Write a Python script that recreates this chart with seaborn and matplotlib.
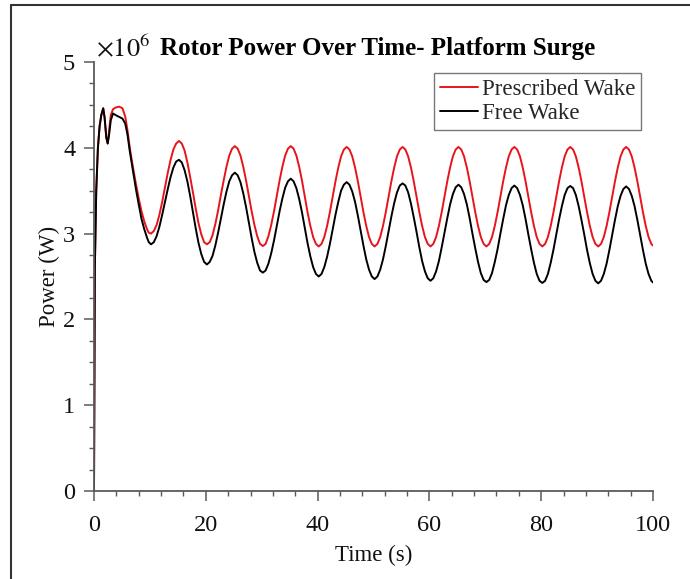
import numpy as np
import pandas as pd
import matplotlib
matplotlib.use("Agg")
import matplotlib.pyplot as plt
import seaborn as sns
from matplotlib.ticker import MultipleLocator
from matplotlib.lines import Line2D

# ---------------- data (power in units of 1e6 W) ----------------
t_early = [0, 0.15, 0.4, 0.7, 1.0, 1.3, 1.65, 1.9, 2.2, 2.45, 2.7, 3.0, 3.4,
           3.9, 4.5, 5.1, 5.6, 6.0, 6.4, 7.0, 7.5, 8.0, 8.5, 9.0, 9.5, 9.8]
t_periodic = list(np.round(np.arange(10.2, 99.75, 0.5), 1)) + [100.0]
time_s = list(t_early) + t_periodic

prescribed_early = [0.0, 2.6, 3.5, 4.0, 4.25, 4.38, 4.46, 4.35, 4.12, 4.05, 4.20, 4.38, 4.45,
                    4.47, 4.48, 4.46, 4.36, 4.20, 4.00, 3.76, 3.58, 3.41, 3.26, 3.14, 3.05, 3.01]
prescribed_periodic = [
    3.00, 3.03, 3.10, 3.22, 3.37, 3.54, 3.71, 3.86, 3.98, 4.05, 4.08,
    4.05, 3.97, 3.83, 3.66, 3.48, 3.29, 3.12, 2.99, 2.90, 2.875,
    2.90, 2.98, 3.11, 3.27, 3.45, 3.62, 3.78, 3.91, 3.99, 4.02,
    3.99, 3.91, 3.78, 3.62, 3.44, 3.26, 3.10, 2.97, 2.88, 2.855,
    2.88, 2.97, 3.10, 3.26, 3.44, 3.62, 3.78, 3.91, 3.99, 4.02,
    3.99, 3.91, 3.78, 3.62, 3.435, 3.25, 3.09, 2.96, 2.88, 2.85,
    2.88, 2.96, 3.09, 3.25, 3.43, 3.61, 3.77, 3.90, 3.98, 4.01,
    3.98, 3.90, 3.77, 3.61, 3.43, 3.25, 3.09, 2.96, 2.88, 2.85,
    2.88, 2.96, 3.09, 3.25, 3.43, 3.61, 3.77, 3.90, 3.98, 4.01,
    3.98, 3.90, 3.77, 3.61, 3.43, 3.25, 3.09, 2.96, 2.88, 2.85,
    2.88, 2.96, 3.09, 3.25, 3.43, 3.61, 3.77, 3.90, 3.98, 4.01,
    3.98, 3.90, 3.77, 3.61, 3.43, 3.25, 3.09, 2.96, 2.88, 2.85,
    2.88, 2.96, 3.09, 3.25, 3.43, 3.61, 3.77, 3.90, 3.98, 4.01,
    3.98, 3.90, 3.77, 3.61, 3.43, 3.25, 3.09, 2.96, 2.88, 2.85,
    2.88, 2.96, 3.09, 3.25, 3.43, 3.61, 3.77, 3.90, 3.98, 4.01,
    3.98, 3.90, 3.77, 3.61, 3.43, 3.25, 3.09, 2.96, 2.88, 2.85,
    2.88, 2.96, 3.09, 3.25, 3.43, 3.61, 3.77, 3.90, 3.98, 4.01,
    3.98, 3.90, 3.77, 3.61, 3.43, 3.25, 3.09, 2.96, 2.88, 2.86,
]
prescribed_wake = prescribed_early + prescribed_periodic

free_early = [0.0, 2.6, 3.5, 4.0, 4.25, 4.38, 4.46, 4.35, 4.12, 4.05, 4.15, 4.32, 4.40,
              4.38, 4.36, 4.34, 4.28, 4.15, 3.96, 3.72, 3.52, 3.34, 3.17, 3.05, 2.95, 2.90]
free_periodic = [
    2.875, 2.90, 2.97, 3.08, 3.22, 3.37, 3.52, 3.66, 3.77, 3.84, 3.86,
    3.83, 3.74, 3.61, 3.44, 3.25, 3.06, 2.89, 2.76, 2.67, 2.64,
    2.67, 2.74, 2.86, 3.01, 3.175, 3.34, 3.49, 3.61, 3.68, 3.71,
    3.68, 3.60, 3.47, 3.31, 3.13, 2.95, 2.785, 2.66, 2.57, 2.545,
    2.57, 2.65, 2.77, 2.92, 3.09, 3.26, 3.41, 3.535, 3.61, 3.64,
    3.61, 3.53, 3.405, 3.25, 3.07, 2.89, 2.735, 2.61, 2.53, 2.50,
    2.53, 2.61, 2.73, 2.88, 3.05, 3.22, 3.37, 3.50, 3.57, 3.60,
    3.57, 3.49, 3.37, 3.21, 3.035, 2.86, 2.70, 2.58, 2.50, 2.47,
    2.50, 2.58, 2.70, 2.855, 3.03, 3.20, 3.355, 3.48, 3.56, 3.585,
    3.56, 3.48, 3.35, 3.19, 3.02, 2.84, 2.68, 2.56, 2.48, 2.45,
    2.48, 2.56, 2.68, 2.84, 3.01, 3.18, 3.34, 3.46, 3.54, 3.57,
    3.54, 3.46, 3.34, 3.18, 3.00, 2.83, 2.67, 2.54, 2.46, 2.435,
    2.46, 2.54, 2.67, 2.82, 3.00, 3.17, 3.33, 3.45, 3.53, 3.56,
    3.53, 3.45, 3.33, 3.17, 2.99, 2.82, 2.66, 2.53, 2.45, 2.425,
    2.45, 2.53, 2.66, 2.815, 2.99, 3.165, 3.32, 3.45, 3.53, 3.555,
    3.53, 3.45, 3.32, 3.16, 2.99, 2.81, 2.655, 2.53, 2.45, 2.42,
    2.45, 2.53, 2.65, 2.81, 2.985, 3.16, 3.32, 3.44, 3.52, 3.55,
    3.52, 3.44, 3.32, 3.16, 2.985, 2.81, 2.65, 2.53, 2.45, 2.43,
]
free_wake = free_early + free_periodic

series_names = ["Prescribed Wake", "Free Wake"]
series_colors = ["#e8141b", "#000000"]

x_ticks = [0, 20, 40, 60, 80, 100]
y_ticks = [0, 1, 2, 3, 4, 5]

# ---------------- style ----------------
sns.set_style("ticks")
plt.rcParams["font.family"] = ["Liberation Serif", "DejaVu Serif"]
plt.rcParams["mathtext.fontset"] = "stix"

W, H = 690, 579
fig = plt.figure(figsize=(W / 100, H / 100), dpi=100)
ax = fig.add_axes([94 / W, 1 - 491 / H, (653 - 94) / W, (491 - 62) / H])

sns.lineplot(x=time_s, y=prescribed_wake, ax=ax, color=series_colors[0], lw=1.4,
             sort=False, estimator=None)
sns.lineplot(x=time_s, y=free_wake, ax=ax, color=series_colors[1], lw=1.4,
             sort=False, estimator=None)

ax.set_xlim(0, 100)
ax.set_ylim(0, 5)
ax.set_xticks(x_ticks)
ax.set_yticks(y_ticks)
ax.xaxis.set_minor_locator(MultipleLocator(4))
ax.yaxis.set_minor_locator(MultipleLocator(0.25))

spine_col = "#5a5a5a"
for s in ["top", "right"]:
    ax.spines[s].set_visible(False)
for s in ["left", "bottom"]:
    ax.spines[s].set_color(spine_col)
    ax.spines[s].set_linewidth(1.3)

ax.tick_params(which="both", bottom=True, left=True, top=False, right=False)
ax.tick_params(which="major", direction="out", length=7.5, width=1.1, color=spine_col,
               labelsize=17.5, labelcolor="#111111")
ax.tick_params(axis="x", which="major", pad=10)
ax.tick_params(axis="y", which="major", pad=6)
ax.tick_params(which="minor", direction="out", length=3.6, width=1.0, color=spine_col)

ax.set_xlabel("Time (s)", fontsize=16.5, color="#111111", labelpad=6)
ax.set_ylabel("Power (W)", fontsize=16.5, color="#111111", labelpad=2)

handles = [Line2D([], [], color=c, lw=1.4) for c in series_colors]
leg = ax.legend(handles, series_names, loc="upper right",
                bbox_to_anchor=((641 - 94) / 559, (491 - 73) / 429),
                fontsize=16.5, frameon=True, fancybox=False, framealpha=1,
                edgecolor="#777777", handlelength=1.7, handletextpad=0.15,
                borderpad=0.25, labelspacing=0.15, borderaxespad=0)
leg.get_frame().set_linewidth(1.0)

fig.text(96 / W, 1 - 56 / H, r"$\times10^{6}$", fontsize=19, color="#111111",
         ha="left", va="baseline")
fig.text(160 / W, 1 - 55 / H, "Rotor Power Over Time- Platform Surge",
         fontsize=18, fontweight="bold", color="#000000", ha="left", va="baseline")

# outer frame lines (left and top)
fig.add_artist(Line2D([11 / W, 11 / W], [0, 1 - 5 / H], color="#333333", lw=1.5,
                      transform=fig.transFigure))
fig.add_artist(Line2D([11 / W, 1], [1 - 5 / H, 1 - 5 / H], color="#333333", lw=1.5,
                      transform=fig.transFigure))

fig.savefig("out.png", dpi=100)
